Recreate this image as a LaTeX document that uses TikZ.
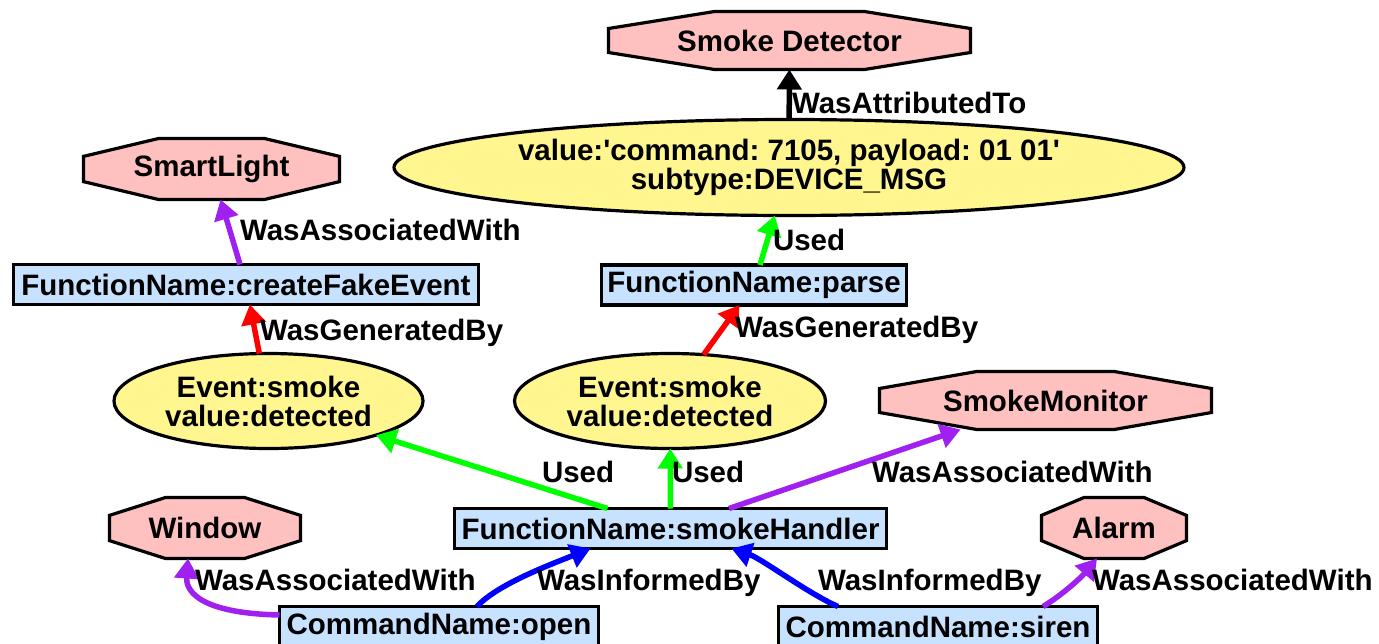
\documentclass[tikz,border=0pt]{standalone}
\usepackage{fontspec}
\setmainfont{Liberation Sans}
\frenchspacing
\usetikzlibrary{shapes.geometric,arrows.meta,calc,backgrounds}
\definecolor{octpink}{RGB}{255,192,192}
\definecolor{ellyellow}{RGB}{255,246,143}
\definecolor{boxblue}{RGB}{198,226,255}
\definecolor{egreen}{RGB}{0,255,0}
\definecolor{ered}{RGB}{255,0,0}
\definecolor{eblue}{RGB}{0,0,255}
\definecolor{epurple}{RGB}{160,32,240}
\newcommand\octof[1]{%
  \filldraw[octline] ($(#1.west)!0.414!(#1.north west)$) -- ($(#1.north west)!0.586!(#1.north)$) -- ($(#1.north east)!0.586!(#1.north)$) -- ($(#1.east)!0.414!(#1.north east)$) -- ($(#1.east)!0.414!(#1.south east)$) -- ($(#1.south east)!0.586!(#1.south)$) -- ($(#1.south west)!0.586!(#1.south)$) -- ($(#1.west)!0.414!(#1.south west)$) -- cycle;}
\begin{document}
\begin{tikzpicture}[x=1pt,y=-1pt,
  every node/.style={font=\fontsize{29.5}{29}\selectfont\bfseries\frenchspacing, inner sep=0pt, outer sep=0pt},
  agent/.style={rectangle, draw=none},
  octline/.style={draw=black, fill=octpink, line width=3.2pt, line join=miter},
  entity/.style={ellipse, draw=black, fill=ellyellow, line width=3.2pt, align=center},
  activity/.style={rectangle, draw=black, fill=boxblue, line width=3.2pt, minimum height=40pt},
  edgelabel/.style={anchor=base west},
  rel/.style={line width=5.5pt, -{Triangle[length=20pt,width=24pt]}}]
\useasboundingbox (0,0) rectangle (1379,643);
\clip (0,0) rectangle (1379,643);
% agents
\node[agent, minimum width=362pt, minimum height=58pt] (sd) at (789.5,40.5) {Smoke Detector};
\node[agent, minimum width=256pt, minimum height=61pt] (sl) at (211.5,169) {SmartLight};
\node[agent, minimum width=332pt, minimum height=58pt] (sm) at (1045.5,400.5) {SmokeMonitor};
\node[agent, minimum width=191pt, minimum height=61pt] (win) at (205,528) {Window};
\node[agent, minimum width=145pt, minimum height=61pt] (alarm) at (1114,528) {Alarm};
\begin{scope}[on background layer]
  \octof{sd}\octof{sl}\octof{sm}\octof{win}\octof{alarm}
\end{scope}
% entities
\node[entity, minimum width=790pt, minimum height=96pt] (msg) at (789,167.5) {value:\textquotesingle command: 7105, payload: 01 01\textquotesingle\\subtype:DEVICE\_MSG};
\node[entity, minimum width=309pt, minimum height=95pt] (ev1) at (268.5,401) {Event:smoke\\value:detected};
\node[entity, minimum width=311pt, minimum height=95pt] (ev2) at (670,401) {Event:smoke\\value:detected};
% activities
\node[activity, minimum width=465pt] (cfe) at (246,284.5) {FunctionName:createFakeEvent};
\node[activity, minimum width=305pt] (parse) at (754,285) {FunctionName:parse};
\node[activity, minimum width=432pt] (sh) at (670.5,528.5) {FunctionName:smokeHandler};
\node[activity, minimum width=319pt] (open) at (439,626.5) {CommandName:open};
\node[activity, minimum width=319pt] (siren) at (938,626.5) {CommandName:siren};
% edges
\draw[rel, black] (msg) -- (sd);
\draw[rel, epurple] (cfe) -- (sl);
\draw[rel, egreen] (parse) -- (msg);
\draw[rel, ered] (ev1) -- (cfe);
\draw[rel, ered] (ev2) -- (parse);
\draw[rel, egreen] (sh) -- (ev1);
\draw[rel, egreen] (sh) -- (ev2);
\draw[rel, epurple] (sh) -- (sm);
\draw[rel, eblue] ([xshift=38pt]open.north) .. controls +(20,-22) and +(-40,16) .. ([xshift=-80pt]sh.south);
\draw[rel, eblue] ([xshift=-100pt]siren.north) .. controls +(-30,-13) and +(30,10) .. ([xshift=61pt]sh.south);
\draw[rel, epurple] ([xshift=105pt]siren.north) .. controls +(20,-12) and +(-15,18) .. ([xshift=-17pt]alarm.south);
\draw[rel, epurple] ([yshift=11.5pt]open.west) .. controls +(-88,-2) and +(-2,28) .. ([xshift=-17pt]win.south);
% labels
\node[edgelabel] (l1) at (792,113) {WasAttributedTo};
\node[edgelabel] (l2) at (240,240) {WasAssociatedWith};
\node[edgelabel] (l3) at (773,250) {Used};
\node[edgelabel] (l4) at (260,340) {WasGeneratedBy};
\node[edgelabel] (l5) at (735,337) {WasGeneratedBy};
\node[edgelabel] (l6) at (542,482) {Used};
\node[edgelabel] (l7) at (672,482) {Used};
\node[edgelabel] (l8) at (872,482) {WasAssociatedWith};
\node[edgelabel] (l9) at (195,590) {WasAssociatedWith};
\node[edgelabel] (l10) at (537,590) {WasInformedBy};
\node[edgelabel] (l11) at (818,590) {WasInformedBy};
\node[edgelabel] (l12) at (1092,590) {WasAssociatedWith};
\end{tikzpicture}
\end{document}
